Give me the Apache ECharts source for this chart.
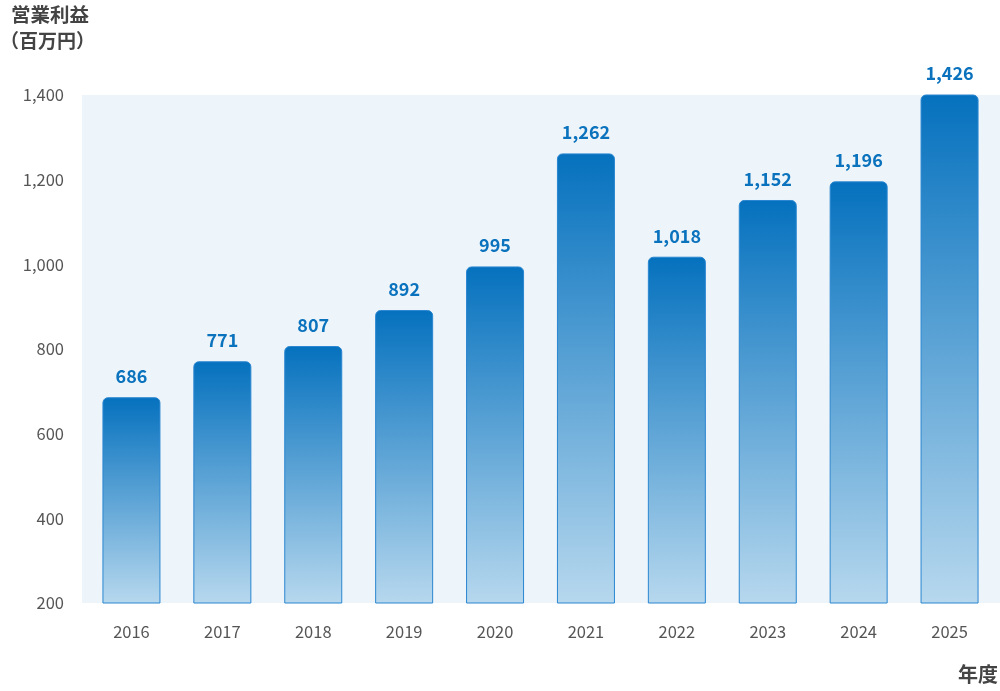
<!DOCTYPE html>
<html>
<head>
<meta charset="utf-8">
<script src="https://cdn.jsdelivr.net/npm/echarts@6/dist/echarts.min.js"></script>
<style>
  html, body { margin: 0; padding: 0; background: #fff; }
  #chart { width: 1000px; height: 691px; }
</style>
</head>
<body>
<div id="chart"></div>
<script>
const years = ['2016', '2017', '2018', '2019', '2020', '2021', '2022', '2023', '2024', '2025']
const operatingProfit = [686, 771, 807, 892, 995, 1262, 1018, 1152, 1196, 1426]
const yTicks = [200, 400, 600, 800, 1000, 1200, 1400]

const FONT = '"Noto Sans CJK JP", "Noto Sans", sans-serif'

const chart = echarts.init(document.getElementById('chart'), null, { renderer: 'canvas' })

chart.setOption({
  animation: false,
  textStyle: { fontFamily: FONT },
  graphic: [
    // plot background, a bit wider than the category band
    {
      type: 'rect', z: -10,
      shape: { x: 82, y: 95, width: 918, height: 508 },
      style: { fill: '#edf5fa' },
    },
    {
      type: 'text', left: 11, top: 5,
      style: { text: '営業利益', font: 'bold 19.5px ' + FONT, fill: '#444' },
    },
    {
      type: 'text', left: 0, top: 31,
      style: { text: '（百万円）', font: 'bold 19px ' + FONT, fill: '#444' },
    },
    {
      type: 'text', right: 2, top: 664,
      style: { text: '年度', font: 'bold 20px ' + FONT, fill: '#444' },
    },
  ],
  grid: {
    left: 86,
    right: 5,
    top: 95,
    bottom: 88,
  },
  xAxis: {
    type: 'category',
    data: years,
    axisLine: { show: false },
    axisTick: { show: false },
    axisLabel: { color: '#555', fontSize: 16.5, margin: 20, fontFamily: FONT },
  },
  yAxis: {
    type: 'value',
    min: yTicks[0],
    max: yTicks[yTicks.length - 1],
    interval: 200,
    axisLine: { show: false },
    axisTick: { show: false },
    splitLine: { show: false },
    axisLabel: {
      color: '#555',
      fontSize: 16.5,
      margin: 22,
      fontFamily: FONT,
      formatter: (v) => v.toLocaleString('en-US'),
    },
  },
  series: [
    {
      type: 'bar',
      data: operatingProfit,
      barWidth: 58,
      itemStyle: {
        borderRadius: [5, 5, 0, 0],
        borderColor: '#2a86d0',
        borderWidth: 1,
        color: new echarts.graphic.LinearGradient(0, 0, 0, 1, [
          { offset: 0, color: '#0571be' },
          { offset: 1, color: '#b7d8ee' },
        ]),
      },
      label: {
        show: true,
        position: 'top',
        distance: 12,
        color: '#0b72bd',
        fontSize: 18,
        fontWeight: 'bold',
        fontFamily: FONT,
        formatter: (p) => p.value.toLocaleString('en-US'),
      },
    },
  ],
})
</script>
</body>
</html>
